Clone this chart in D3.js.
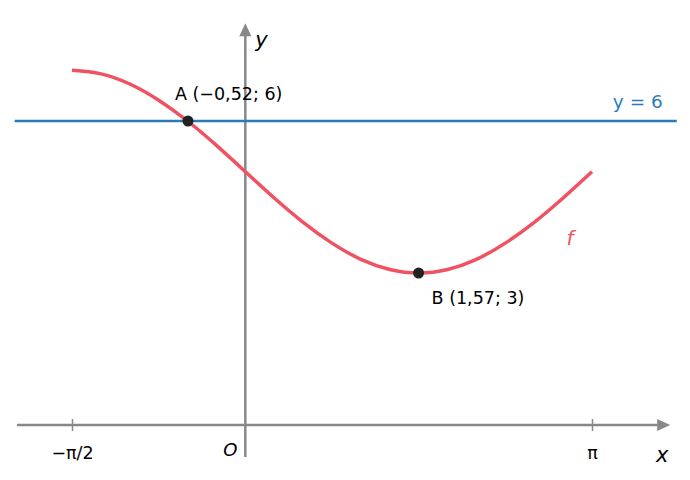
<!DOCTYPE html>
<html>
<head>
<meta charset="utf-8">
<script src="https://cdn.jsdelivr.net/npm/d3@7"></script>
<style>
body { margin: 0; background: #fff; }
svg { display: block; font-family: "DejaVu Sans", sans-serif; }
</style>
</head>
<body>
<svg id="chart" width="690" height="480"></svg>
<script>
// curve f
var curveX = [-1.571, -1.309, -1.047, -0.785, -0.524, -0.262, 0, 0.262, 0.524, 0.785,
	1.047, 1.309, 1.571, 1.833, 2.094, 2.356, 2.618, 2.880, 3.142];
var curveY = [7.00, 6.93, 6.73, 6.41, 6.00, 5.52, 5.00, 4.48, 4.00, 3.59,
	3.27, 3.07, 3.00, 3.07, 3.27, 3.59, 4.00, 4.48, 5.00];

var pointNames = ["A (−0,52; 6)", "B (1,57; 3)"];
var pointX = [-0.52, 1.57];
var pointY = [6, 3];

var tickValues = [-1.5708, 3.1416];
var tickLabels = ["−π/2", "π"];

var lineLevel = 6;
var xExtent = [-2.07, 3.85];
var yExtent = [-0.63, 7.93];
var hExtent = [-2.09, 3.91];

var red = "#ef5261", blue = "#2b7bba", grey = "#888888";

var svg = d3.select("#chart");
var x = d3.scaleLinear().domain([-1.5708, 3.1416]).range([72, 592]);
var y = d3.scaleLinear().domain([0, 6]).range([425, 121]);

/* axes */
svg.append("line")
	.attr("x1", x(xExtent[0])).attr("x2", x(xExtent[1]) - 10)
	.attr("y1", y(0)).attr("y2", y(0))
	.attr("stroke", grey).attr("stroke-width", 2.5);
svg.append("path")
	.attr("d", "M" + x(xExtent[1]) + "," + y(0) + "l-13,-6l0,12z")
	.attr("fill", grey);

svg.append("line")
	.attr("x1", x(0)).attr("x2", x(0))
	.attr("y1", y(yExtent[0])).attr("y2", y(yExtent[1]) + 10)
	.attr("stroke", grey).attr("stroke-width", 2.5);
svg.append("path")
	.attr("d", "M" + x(0) + "," + y(yExtent[1]) + "l-6,13l12,0z")
	.attr("fill", grey);

var ax = svg.append("g")
	.attr("transform", "translate(0," + y(0) + ")")
	.call(d3.axisBottom(x).tickValues(tickValues)
		.tickFormat(function(d, i){ return tickLabels[i]; })
		.tickSize(6));
ax.select(".domain").remove();
ax.selectAll(".tick line")
	.attr("y1", -6).attr("y2", 6)
	.attr("stroke", grey).attr("stroke-width", 1.5);
ax.selectAll(".tick text")
	.attr("y", 21.5).attr("dy", "0.71em")
	.attr("fill", "#000")
	.attr("font-size", 17.5)
	.attr("font-family", "DejaVu Sans, sans-serif");

/* horizontal line y = 6 */
svg.append("line")
	.attr("x1", x(hExtent[0])).attr("x2", x(hExtent[1]))
	.attr("y1", y(lineLevel)).attr("y2", y(lineLevel))
	.attr("stroke", blue).attr("stroke-width", 2.5);
svg.append("text")
	.attr("x", x(hExtent[1]) - 14).attr("y", y(lineLevel) - 13.5)
	.attr("text-anchor", "end")
	.attr("font-size", 18.5)
	.attr("fill", blue)
	.text("y = " + lineLevel);

/* curve */
var pts = curveX.map(function(d, i){ return [d, curveY[i]]; });
svg.append("path")
	.datum(pts)
	.attr("d", d3.line()
		.x(function(d){ return x(d[0]); })
		.y(function(d){ return y(d[1]); })
		.curve(d3.curveNatural))
	.attr("fill", "none")
	.attr("stroke", red).attr("stroke-width", 3.5);

svg.append("text")
	.attr("x", 570).attr("y", 245)
	.attr("text-anchor", "middle")
	.attr("font-size", 20).attr("font-style", "italic")
	.attr("fill", red)
	.text("f");

/* points */
for (var i = 0; i < pointX.length; i++){
	svg.append("circle")
		.attr("cx", x(pointX[i])).attr("cy", y(pointY[i]))
		.attr("r", 5.5)
		.attr("fill", "#222");
}
svg.append("text")
	.attr("x", x(pointX[0]) - 13).attr("y", y(pointY[0]) - 21)
	.attr("font-size", 17.5)
	.text(pointNames[0]);
svg.append("text")
	.attr("x", x(pointX[1]) + 13).attr("y", y(pointY[1]) + 31)
	.attr("font-size", 17.5)
	.text(pointNames[1]);

/* axis names */
svg.append("text")
	.attr("x", x(0) + 10).attr("y", 47)
	.attr("font-size", 21).attr("font-style", "italic")
	.text("y");
svg.append("text")
	.attr("x", 656).attr("y", 462)
	.attr("font-size", 21).attr("font-style", "italic")
	.text("x");
svg.append("text")
	.attr("x", x(0) - 8).attr("y", 456)
	.attr("text-anchor", "end")
	.attr("font-size", 18).attr("font-style", "italic")
	.text("O");
</script>
</body>
</html>
